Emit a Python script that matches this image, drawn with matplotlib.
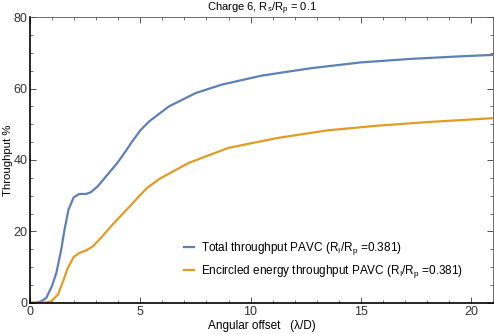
import numpy as np
import matplotlib
matplotlib.use('Agg')
import matplotlib.pyplot as plt
from matplotlib.ticker import MultipleLocator

plt.rcParams['font.family'] = ['Liberation Sans', 'DejaVu Sans']
plt.rcParams['mathtext.fontset'] = 'custom'
plt.rcParams['mathtext.rm'] = 'Liberation Sans'

# values
x_total = [0, 0.3, 0.51, 0.73, 0.99, 1.19, 1.41, 1.56, 1.74, 1.98, 2.24, 2.54, 2.76, 3.06,
           3.51, 3.96, 4.27, 4.6, 5.0, 5.4, 6.3, 7.5, 8.7, 10.5, 12.76, 15.0, 17.3, 19.5, 21.0]
y_total = [0, 0.1, 0.5, 1.4, 4.7, 8.4, 14.9, 20.5, 26.1, 29.6, 30.5, 30.5, 31.0, 32.6,
           35.9, 39.2, 41.9, 44.9, 48.3, 50.8, 55.0, 58.7, 61.1, 63.6, 65.7, 67.3, 68.3, 69.0, 69.4]

x_ee = [0, 0.7, 0.96, 1.26, 1.49, 1.71, 1.98, 2.24, 2.54, 2.84, 3.21, 3.81, 4.41, 5.01,
        5.31, 5.86, 7.2, 9.0, 11.26, 13.5, 15.77, 18.0, 21.0]
y_ee = [0, 0.1, 0.5, 2.3, 6.0, 9.8, 12.9, 14.0, 14.7, 15.8, 18.2, 22.4, 26.3, 30.3,
        32.2, 34.7, 39.2, 43.4, 46.2, 48.3, 49.6, 50.6, 51.7]

lab_total = r'Total throughput PAVC (R$_\mathregular{I}$/R$_\mathregular{p}$ =0.381)'
lab_ee = r'Encircled energy throughput PAVC (R$_\mathregular{I}$/R$_\mathregular{p}$ =0.381)'

fig = plt.figure(figsize=(4.94, 3.34), dpi=100)
ax = fig.add_axes([0.061, 0.093, 0.937, 0.856])

ax.plot(x_total, y_total, color='#5E81B5', lw=1.6, label=lab_total)
ax.plot(x_ee, y_ee, color='#E19C24', lw=1.6, label=lab_ee)

ax.set_xlim(0, 21)
ax.set_ylim(0, 80)
ax.xaxis.set_major_locator(MultipleLocator(5))
ax.xaxis.set_minor_locator(MultipleLocator(1))
ax.yaxis.set_major_locator(MultipleLocator(20))
ax.yaxis.set_minor_locator(MultipleLocator(5))
ax.tick_params(which='both', direction='in', top=True, right=True, labelsize=9,
               colors='#333333', pad=2)
ax.tick_params(which='major', length=4, width=0.6)
ax.tick_params(which='minor', length=2, width=0.5)

for s in ['left', 'bottom']:
    ax.spines[s].set_linewidth(1.2)
    ax.spines[s].set_color('black')
for s in ['top', 'right']:
    ax.spines[s].set_linewidth(0.6)
    ax.spines[s].set_color('#555555')

ax.set_title(r'Charge 6, R$_\mathregular{s}$/R$_\mathregular{p}$ = 0.1', fontsize=8, pad=3)
ax.set_ylabel('Throughput %', fontsize=8.2)
ax.yaxis.set_label_coords(-0.036, 0.5)
ax.set_xlabel('Angular offset   (λ/D)', fontsize=8.5, labelpad=2)

ax.legend(loc='center left', bbox_to_anchor=(0.309, 0.15), frameon=False, fontsize=8.5,
          handlelength=0.9, handletextpad=0.6, labelspacing=0.5)

fig.savefig('out.png', dpi=100)
